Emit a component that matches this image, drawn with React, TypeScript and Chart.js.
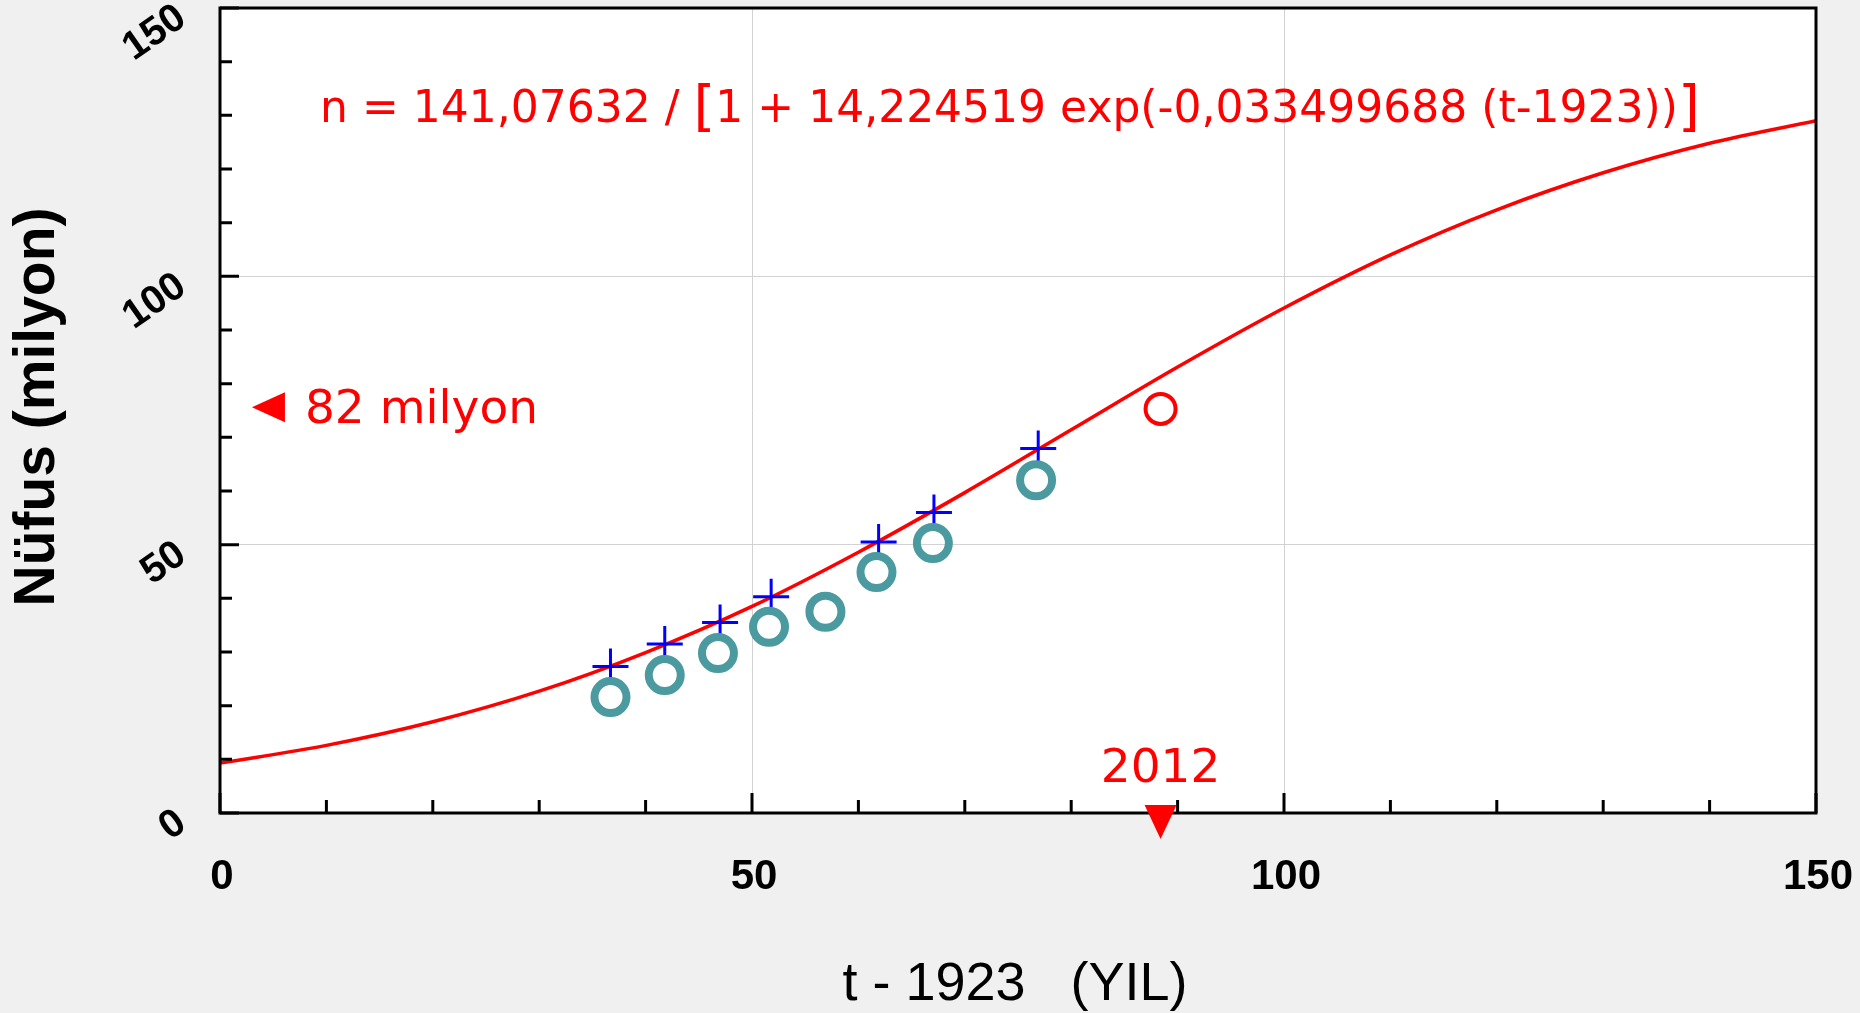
import React, { useEffect, useRef } from 'react';
import { Chart, registerables } from 'chart.js';

Chart.register(...registerables);

// ---- data ----
const curveT = [0, 10, 20, 30, 40, 50, 60, 70, 80, 90, 100, 110, 120, 130, 140, 150];
const curveN = [9.3, 12.6, 17.0, 22.7, 29.9, 38.5, 48.6, 59.7, 71.4, 83.1, 94.1, 104.0, 112.4, 119.3, 124.8, 129.0];

const circleT = [36.7, 41.8, 46.8, 51.6, 56.9, 61.7, 67.0, 76.7];
const circleN = [21.6, 25.7, 29.8, 34.7, 37.5, 44.9, 50.3, 62.0];

const crossT = [36.7, 41.8, 47.0, 51.8, 61.9, 67.1, 76.9];
const crossN = [27.3, 31.5, 35.5, 40.3, 50.5, 56.0, 67.9];

const redT = [88.4];
const redN = [75.3];

const xTickLabels = [0, 50, 100, 150];
const yTickLabels = [0, 50, 100, 150];

const formulaLeft = 'n = 141,07632 / ';
const formulaMid = '1 + 14,224519 exp(-0,033499688 (t-1923))';
const label82 = '82 milyon';
const label2012 = '2012';
const xTitle = 't - 1923   (YIL)';
const yTitle = 'Nüfus (milyon)';

// annotation anchors in data units
const formulaAt = { x: 9.4, y: 128.8 };
const arrow82At = { x: 3.0, y: 75.6 };
const year2012At = 88.4;

const zip = (xs: number[], ys: number[]) => xs.map((x, i) => ({ x, y: ys[i] }));

const decor = {
  id: 'decor',
  beforeDraw(chart: any) {
    const { ctx, chartArea: a, width, height } = chart;
    ctx.save();
    ctx.fillStyle = '#f0f0f0';
    ctx.fillRect(0, 0, width, height);
    ctx.fillStyle = '#ffffff';
    ctx.fillRect(a.left, a.top, a.right - a.left, a.bottom - a.top);
    ctx.restore();
  },
  afterDraw(chart: any) {
    const { ctx, chartArea: a, scales } = chart;
    const xs = scales.x;
    const ys = scales.y;
    ctx.save();
    // inward ticks
    ctx.strokeStyle = '#000';
    ctx.lineWidth = 3;
    ctx.beginPath();
    xs.ticks.forEach((t: any) => {
      const px = xs.getPixelForValue(t.value);
      const len = t.value % 50 === 0 ? 20 : 13;
      ctx.moveTo(px, a.bottom);
      ctx.lineTo(px, a.bottom - len);
    });
    ys.ticks.forEach((t: any) => {
      const py = ys.getPixelForValue(t.value);
      const len = t.value % 50 === 0 ? 19 : 12;
      ctx.moveTo(a.left, py);
      ctx.lineTo(a.left + len, py);
    });
    ctx.stroke();
    ctx.strokeRect(a.left, a.top, a.right - a.left, a.bottom - a.top);

    // formula
    ctx.fillStyle = '#ff0000';
    ctx.textBaseline = 'alphabetic';
    ctx.textAlign = 'left';
    let fx = xs.getPixelForValue(formulaAt.x);
    const fy = ys.getPixelForValue(formulaAt.y);
    const f1 = '44px "DejaVu Sans"';
    const fb = '56px "DejaVu Sans"';
    ctx.font = f1;
    ctx.fillText(formulaLeft, fx, fy);
    fx += ctx.measureText(formulaLeft).width;
    ctx.font = fb;
    ctx.fillText('[', fx, fy + 3);
    fx += ctx.measureText('[').width;
    ctx.font = f1;
    ctx.fillText(formulaMid, fx, fy);
    fx += ctx.measureText(formulaMid).width;
    ctx.font = fb;
    ctx.fillText(']', fx, fy + 3);

    // 82 milyon arrow
    const ax = xs.getPixelForValue(arrow82At.x);
    const ay = ys.getPixelForValue(arrow82At.y);
    ctx.beginPath();
    ctx.moveTo(ax, ay);
    ctx.lineTo(ax + 33, ay - 15);
    ctx.lineTo(ax + 33, ay + 15);
    ctx.closePath();
    ctx.fill();
    ctx.font = '47px "DejaVu Sans"';
    ctx.fillText(label82, ax + 53, ay + 16);

    // 2012 marker
    const yx = xs.getPixelForValue(year2012At);
    ctx.beginPath();
    ctx.moveTo(yx - 16, a.bottom - 8);
    ctx.lineTo(yx + 16, a.bottom - 8);
    ctx.lineTo(yx, a.bottom + 26);
    ctx.closePath();
    ctx.fill();
    ctx.textAlign = 'center';
    ctx.fillText(label2012, yx, a.bottom - 31);

    // axis titles
    ctx.fillStyle = '#000';
    ctx.font = '54px "Liberation Sans"';
    ctx.textAlign = 'center';
    ctx.fillText(xTitle, 1015, 1000);
    ctx.save();
    ctx.translate(54, 407);
    ctx.rotate(-Math.PI / 2);
    ctx.font = 'bold 57px "Liberation Sans"';
    ctx.fillText(yTitle, 0, 0);
    ctx.restore();

    ctx.restore();
  },
};

export default function App() {
  const ref = useRef<HTMLCanvasElement | null>(null);
  useEffect(() => {
    document.body.style.margin = '0';
    document.body.style.background = '#f0f0f0';
    const canvas = ref.current!;
    const gridColor = (ctx: any) => {
      const v = ctx.tick ? ctx.tick.value : 0;
      return v % 50 === 0 && v !== 0 && v !== 150 ? '#d2d2d2' : 'rgba(0,0,0,0)';
    };
    const chart = new Chart(canvas, {
      type: 'scatter',
      data: {
        datasets: [
          {
            label: 'circles',
            data: zip(circleT, circleN),
            pointStyle: 'circle',
            pointRadius: 16,
            pointBorderWidth: 8,
            borderColor: '#4a9aa0',
            backgroundColor: 'rgba(0,0,0,0)',
            order: 0,
          },
          {
            label: '2012',
            data: zip(redT, redN),
            pointStyle: 'circle',
            pointRadius: 15,
            pointBorderWidth: 4,
            borderColor: '#ff0000',
            backgroundColor: 'rgba(0,0,0,0)',
            order: 1,
          },
          {
            label: 'crosses',
            data: zip(crossT, crossN),
            pointStyle: 'cross',
            pointRadius: 18,
            pointBorderWidth: 3,
            borderColor: '#0000ff',
            backgroundColor: '#0000ff',
            order: 2,
          },
          {
            label: 'fit',
            data: zip(curveT, curveN),
            showLine: true,
            pointRadius: 0,
            borderColor: '#ff0000',
            borderWidth: 3.5,
            cubicInterpolationMode: 'monotone',
            order: 3,
          } as any,
        ],
      },
      options: {
        animation: false,
        responsive: false,
        maintainAspectRatio: false,
        devicePixelRatio: 1,
        layout: { autoPadding: false, padding: { top: 8, right: 44, left: 0, bottom: 0 } },
        plugins: { legend: { display: false }, tooltip: { enabled: false } },
        scales: {
          x: {
            type: 'linear',
            min: 0,
            max: 150,
            border: { display: false },
            grid: { drawTicks: false, color: gridColor, lineWidth: 1 },
            ticks: {
              stepSize: 10,
              autoSkip: false,
              padding: 39,
              labelOffset: 2,
              color: '#000',
              font: { family: 'Liberation Sans', size: 42, weight: 'bold' },
              callback: (v: any) => (xTickLabels.includes(Number(v)) ? String(v) : ''),
            },
            afterFit: (s: any) => {
              s.height = 200;
              s.paddingLeft = 0;
              s.paddingRight = 0;
              s.paddingTop = 0;
              s.paddingBottom = 0;
            },
          },
          y: {
            type: 'linear',
            min: 0,
            max: 150,
            border: { display: false },
            grid: { drawTicks: false, color: gridColor, lineWidth: 1 },
            ticks: {
              stepSize: 10,
              autoSkip: false,
              padding: 38,
              labelOffset: 6,
              minRotation: 35,
              maxRotation: 35,
              color: '#000',
              font: { family: 'Liberation Sans', size: 40, weight: 'bold' },
              callback: (v: any) => (yTickLabels.includes(Number(v)) ? String(v) : ''),
            },
            afterFit: (s: any) => {
              s.width = 220;
              s.paddingLeft = 0;
              s.paddingRight = 0;
              s.paddingTop = 0;
              s.paddingBottom = 0;
            },
          },
        },
      },
      plugins: [decor],
    });
    return () => chart.destroy();
  }, []);
  return <canvas ref={ref} width={1860} height={1013} style={{ display: 'block' }} />;
}
